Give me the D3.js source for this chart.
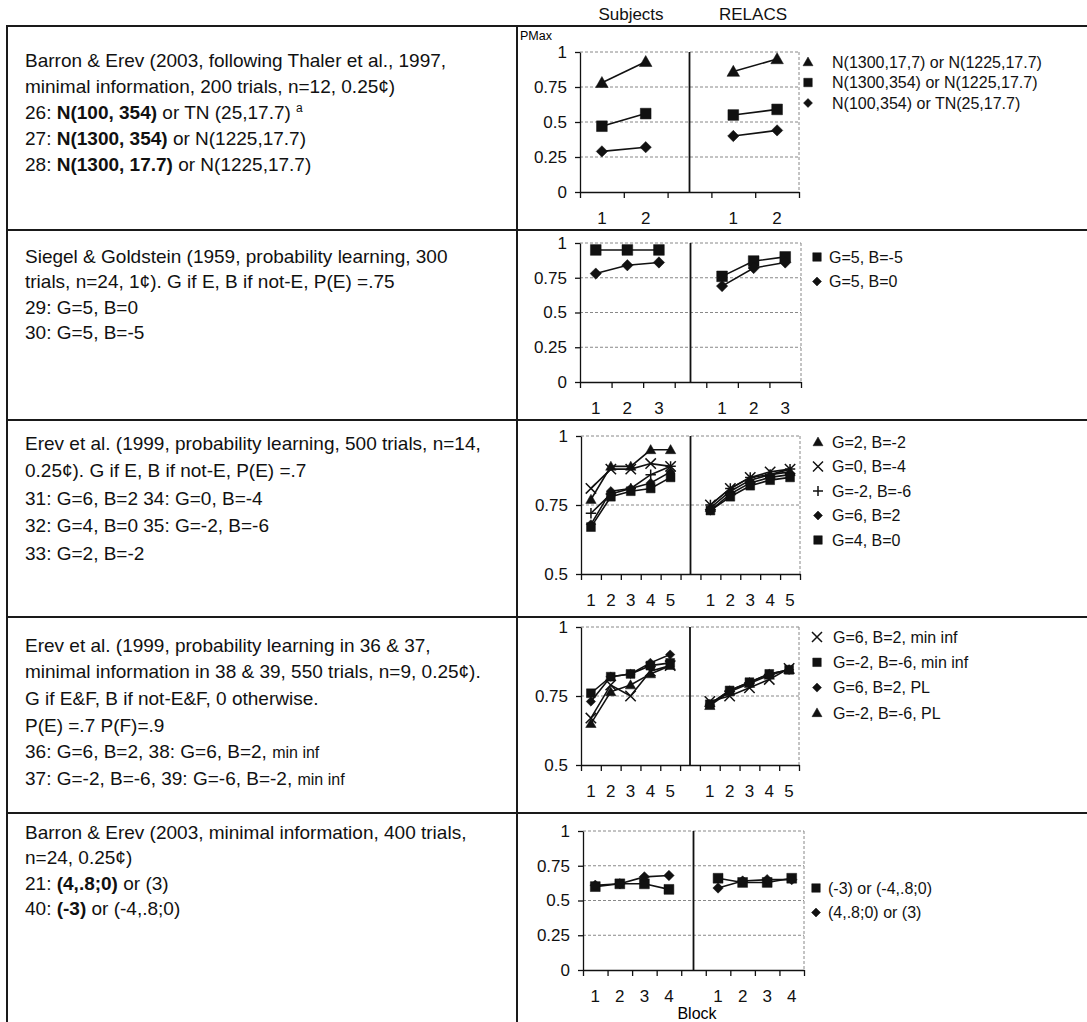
<!DOCTYPE html>
<meta charset="utf-8">
<script src="https://d3js.org/d3.v7.min.js"></script>
<style type="text/css">
body { margin: 0; background: #fff; }
svg { font-family: "Liberation Sans", Arial, sans-serif; }
.rule { stroke: #1a1a1a; stroke-width: 2; }
.cell { font-size: 19px; fill: #111; }
.head { font-size: 17px; fill: #111; text-anchor: middle; }
.axis text { font-size: 17px; fill: #111; font-family: "Liberation Sans", Arial, sans-serif; }
.axis path, .axis line { stroke: #111; stroke-width: 1.3; }
.grid { stroke: #888; stroke-width: 1; stroke-dasharray: 3,2; }
.divider { stroke: #111; stroke-width: 1.8; }
.serie { fill: none; stroke: #111; stroke-width: 1.6; }
.leg { font-size: 16px; fill: #111; }
</style>
<body>
<div id="canvas"></div>
<script>

// ---- data -----------------------------------------------------------------

// row 1: Barron & Erev, 200 trials
var blocks1 = ["1", "2"];
var labels1 = ["N(1300,17,7) or N(1225,17.7)", "N(1300,354) or N(1225,17.7)", "N(100,354) or TN(25,17.7)"];
var marks1 = ["triangle", "square", "diamond"];
var subjects1 = [[0.78, 0.93], [0.47, 0.56], [0.29, 0.32]];
var relacs1 = [[0.86, 0.95], [0.55, 0.59], [0.40, 0.44]];

// row 2: Siegel & Goldstein
var blocks2 = ["1", "2", "3"];
var labels2 = ["G=5, B=-5", "G=5, B=0"];
var marks2 = ["square", "diamond"];
var subjects2 = [[0.95, 0.95, 0.95], [0.78, 0.84, 0.86]];
var relacs2 = [[0.76, 0.87, 0.90], [0.69, 0.82, 0.86]];

// row 3: Erev et al. 500 trials
var blocks3 = ["1", "2", "3", "4", "5"];
var labels3 = ["G=2, B=-2", "G=0, B=-4", "G=-2, B=-6", "G=6, B=2", "G=4, B=0"];
var marks3 = ["triangle", "times", "plus", "diamond", "square"];
var subjects3 = [
	[0.77, 0.89, 0.89, 0.95, 0.95],
	[0.81, 0.88, 0.88, 0.90, 0.89],
	[0.72, 0.79, 0.81, 0.86, 0.89],
	[0.68, 0.80, 0.81, 0.83, 0.87],
	[0.67, 0.78, 0.80, 0.81, 0.85]];
var relacs3 = [
	[0.74, 0.80, 0.84, 0.86, 0.87],
	[0.75, 0.81, 0.85, 0.87, 0.88],
	[0.75, 0.81, 0.85, 0.86, 0.88],
	[0.73, 0.79, 0.83, 0.85, 0.86],
	[0.73, 0.78, 0.82, 0.84, 0.85]];

// row 4: Erev et al. 550 trials
var blocks4 = ["1", "2", "3", "4", "5"];
var labels4 = ["G=6, B=2, min inf", "G=-2, B=-6, min inf", "G=6, B=2, PL", "G=-2, B=-6, PL"];
var marks4 = ["times", "square", "diamond", "triangle"];
var subjects4 = [
	[0.67, 0.79, 0.75, 0.84, 0.86],
	[0.76, 0.82, 0.83, 0.86, 0.87],
	[0.73, 0.82, 0.83, 0.87, 0.90],
	[0.65, 0.765, 0.79, 0.83, 0.86]];
var relacs4 = [
	[0.73, 0.75, 0.78, 0.81, 0.85],
	[0.72, 0.77, 0.80, 0.83, 0.845],
	[0.72, 0.77, 0.80, 0.83, 0.845],
	[0.715, 0.765, 0.795, 0.825, 0.845]];

// row 5: Barron & Erev, 400 trials
var blocks5 = ["1", "2", "3", "4"];
var labels5 = ["(-3) or (-4,.8;0)", "(4,.8;0) or (3)"];
var marks5 = ["square", "diamond"];
var subjects5 = [[0.60, 0.62, 0.62, 0.58], [0.61, 0.62, 0.67, 0.68]];
var relacs5 = [[0.66, 0.63, 0.63, 0.66], [0.59, 0.64, 0.65, 0.65]];

// y ticks
var ticksFull = [0, 0.25, 0.5, 0.75, 1];
var ticksHalf = [0.5, 0.75, 1];

// left column texts: [text, style]
var text1 = [
	[["Barron & Erev (2003, following Thaler et al., 1997,"]],
	[["minimal information, 200 trials, n=12, 0.25\u00a2)"]],
	[["26: "], ["N(100, 354)", "b"], [" or TN (25,17.7) "], ["a", "sup"]],
	[["27: "], ["N(1300, 354)", "b"], [" or N(1225,17.7)"]],
	[["28: "], ["N(1300, 17.7)", "b"], [" or N(1225,17.7)"]]];
var text2 = [
	[["Siegel & Goldstein (1959, probability learning, 300"]],
	[["trials, n=24, 1\u00a2). G if E, B if not-E, P(E) =.75"]],
	[["29: G=5, B=0"]],
	[["30: G=5, B=-5"]]];
var text3 = [
	[["Erev et al. (1999, probability learning, 500 trials, n=14,"]],
	[["0.25\u00a2). G if E, B if not-E, P(E) =.7"]],
	[["31: G=6, B=2  34: G=0, B=-4"]],
	[["32: G=4, B=0  35: G=-2, B=-6"]],
	[["33: G=2, B=-2"]]];
var text4 = [
	[["Erev et al. (1999, probability learning in 36 & 37,"]],
	[["minimal information in 38 & 39, 550 trials, n=9, 0.25\u00a2)."]],
	[["G if E&F, B if not-E&F, 0 otherwise."]],
	[["P(E) =.7 P(F)=.9"]],
	[["36: G=6, B=2,  38: G=6, B=2, "], ["min inf", "small"]],
	[["37: G=-2, B=-6, 39: G=-6, B=-2, "], ["min inf", "small"]]];
var text5 = [
	[["Barron & Erev (2003, minimal information, 400 trials,"]],
	[["n=24, 0.25\u00a2)"]],
	[["21: "], ["(4,.8;0)", "b"], [" or (3)"]],
	[["40: "], ["(-3)", "b"], [" or (-4,.8;0)"]]];

// ---- drawing ---------------------------------------------------------------

var W = 1087, H = 1022;
var svg = d3.select("#canvas").append("svg")
	.attr("width", W)
	.attr("height", H);

// marker shapes (size = half width in px)
var shapes = {
	triangle: { draw: function(c, r) { c.moveTo(0, -r); c.lineTo(r, r * 0.75); c.lineTo(-r, r * 0.75); c.closePath(); } },
	square:   { draw: function(c, r) { var h = r * 0.85; c.rect(-h, -h, 2 * h, 2 * h); } },
	diamond:  { draw: function(c, r) { var h = r * 0.9; c.moveTo(0, -h); c.lineTo(h, 0); c.lineTo(0, h); c.lineTo(-h, 0); c.closePath(); } },
	times:    { draw: function(c, r) { c.moveTo(-r, -r); c.lineTo(r, r); c.moveTo(r, -r); c.lineTo(-r, r); } },
	plus:     { draw: function(c, r) { c.moveTo(-r, 0); c.lineTo(r, 0); c.moveTo(0, -r); c.lineTo(0, r); } }
};

function marker(sel, type, r) {
	var open = (type === "times" || type === "plus");
	return sel.attr("d", d3.symbol().type(shapes[type]).size(r)())
		.style("fill", open ? "none" : "#111")
		.style("stroke", "#111")
		.style("stroke-width", open ? 1.5 : 0.5);
}

// table rules
var rowLines = [26, 230, 420, 617, 813];
rowLines.forEach(function(y) {
	svg.append("line").attr("class", "rule")
		.attr("x1", 7).attr("x2", W).attr("y1", y).attr("y2", y);
});
[7, 517].forEach(function(x) {
	svg.append("line").attr("class", "rule")
		.attr("x1", x).attr("x2", x).attr("y1", 25).attr("y2", H);
});

// column headers
svg.append("text").attr("class", "head").attr("x", 631).attr("y", 20).text("Subjects");
svg.append("text").attr("class", "head").attr("x", 753).attr("y", 20).text("RELACS");

// left column cells
function drawCell(lines, y0, step) {
	lines.forEach(function(segs, i) {
		var t = svg.append("text").attr("class", "cell")
			.attr("x", 25).attr("y", y0 + i * step).attr("dy", "0.35em");
		segs.forEach(function(s) {
			var ts = t.append("tspan").text(s[0]);
			if (s[1] === "b") ts.attr("font-weight", "bold");
			if (s[1] === "sup") ts.attr("font-size", "12px").attr("dy", "-0.6em");
			if (s[1] === "small") ts.attr("font-size", "16px");
		});
	});
}
drawCell(text1, 60, 26.2);
drawCell(text2, 256, 25.5);
drawCell(text3, 443, 27.5);
drawCell(text4, 645, 26.7);
drawCell(text5, 832, 25.6);

// one chart panel: Subjects | RELACS on a shared category axis
function drawPanel(cfg, blocks, subj, rel, marks, labels) {
	var keys = blocks.map(function(b) { return "s" + b; })
		.concat(["gap"], blocks.map(function(b) { return "r" + b; }));

	var x = d3.scaleBand().domain(keys).range([cfg.left, cfg.right]);
	var y = d3.scaleLinear().domain([cfg.ticks[0], 1]).range([cfg.bottom, cfg.top]);
	var g = svg.append("g");

	// grid + dotted plot border
	g.selectAll(".grid").data(cfg.ticks.slice(1)).join("line")
		.attr("class", "grid")
		.attr("x1", cfg.left).attr("x2", cfg.right)
		.attr("y1", function(d) { return y(d); })
		.attr("y2", function(d) { return y(d); });
	g.append("line").attr("class", "grid")
		.attr("x1", cfg.right).attr("x2", cfg.right)
		.attr("y1", cfg.top).attr("y2", cfg.bottom);

	// eixo Y
	g.append("g").attr("class", "axis")
		.attr("transform", "translate(" + cfg.left + ",0)")
		.call(d3.axisLeft(y).tickValues(cfg.ticks).tickSize(5).tickSizeOuter(0).tickPadding(8)
			.tickFormat(function(d) { return String(d); }));

	// eixo X: ticks on category boundaries
	var xb = d3.scaleLinear().domain([0, keys.length]).range([cfg.left, cfg.right]);
	g.append("g").attr("class", "axis")
		.attr("transform", "translate(0," + cfg.bottom + ")")
		.call(d3.axisBottom(xb).tickValues(d3.range(keys.length + 1)).tickSize(6).tickSizeOuter(0).tickFormat(""));

	// block labels
	g.append("g").attr("class", "axis")
		.attr("transform", "translate(0," + cfg.bottom + ")")
		.call(d3.axisBottom(x).tickSize(0).tickPadding(20)
			.tickFormat(function(k) { return k === "gap" ? "" : k.slice(1); }))
		.call(function(a) { a.select(".domain").remove(); });

	// divider between Subjects and RELACS
	var xm = x("gap") + x.bandwidth() / 2;
	g.append("line").attr("class", "divider")
		.attr("x1", xm).attr("x2", xm).attr("y1", cfg.top).attr("y2", cfg.bottom);

	// series
	var line = d3.line()
		.x(function(d) { return x(d.k) + x.bandwidth() / 2; })
		.y(function(d) { return y(d.v); });

	[["s", subj], ["r", rel]].forEach(function(half) {
		half[1].forEach(function(vals, i) {
			var pts = vals.map(function(v, j) { return { k: half[0] + blocks[j], v: v }; });
			g.append("path").attr("class", "serie").attr("d", line(pts));
			g.selectAll(null).data(pts).join("path")
				.attr("transform", function(d) { return "translate(" + (x(d.k) + x.bandwidth() / 2) + "," + y(d.v) + ")"; })
				.call(marker, marks[i], cfg.r);
		});
	});

	// legend
	labels.forEach(function(lab, i) {
		var ly = cfg.legY + i * cfg.legStep;
		g.append("path")
			.attr("transform", "translate(" + cfg.legMX + "," + ly + ")")
			.call(marker, marks[i], 5);
		g.append("text").attr("class", "leg")
			.attr("x", cfg.legTX).attr("y", ly).attr("dy", "0.35em")
			.text(lab);
	});
}

drawPanel({ left: 580, right: 799, top: 52, bottom: 192, ticks: ticksFull, r: 6.3,
	legMX: 808, legTX: 832, legY: 62, legStep: 20.5 }, blocks1, subjects1, relacs1, marks1, labels1);
drawPanel({ left: 580, right: 801, top: 243, bottom: 382, ticks: ticksFull, r: 6.3,
	legMX: 817, legTX: 829, legY: 257, legStep: 24.5 }, blocks2, subjects2, relacs2, marks2, labels2);
drawPanel({ left: 581, right: 800, top: 436, bottom: 574, ticks: ticksHalf, r: 5.2,
	legMX: 818, legTX: 832, legY: 442, legStep: 24.5 }, blocks3, subjects3, relacs3, marks3, labels3);
drawPanel({ left: 581, right: 799, top: 627, bottom: 765, ticks: ticksHalf, r: 5.2,
	legMX: 817, legTX: 833, legY: 637, legStep: 25.3 }, blocks4, subjects4, relacs4, marks4, labels4);
drawPanel({ left: 583, right: 804, top: 831, bottom: 970, ticks: ticksFull, r: 5.8,
	legMX: 816, legTX: 828, legY: 888, legStep: 24.5 }, blocks5, subjects5, relacs5, marks5, labels5);

// axis titles
svg.append("text").attr("x", 520).attr("y", 40).style("font-size", "12.5px").text("PMax");
svg.append("text").attr("x", 697).attr("y", 1019).style("font-size", "16px")
	.attr("text-anchor", "middle").text("Block");
</script>
</body>
